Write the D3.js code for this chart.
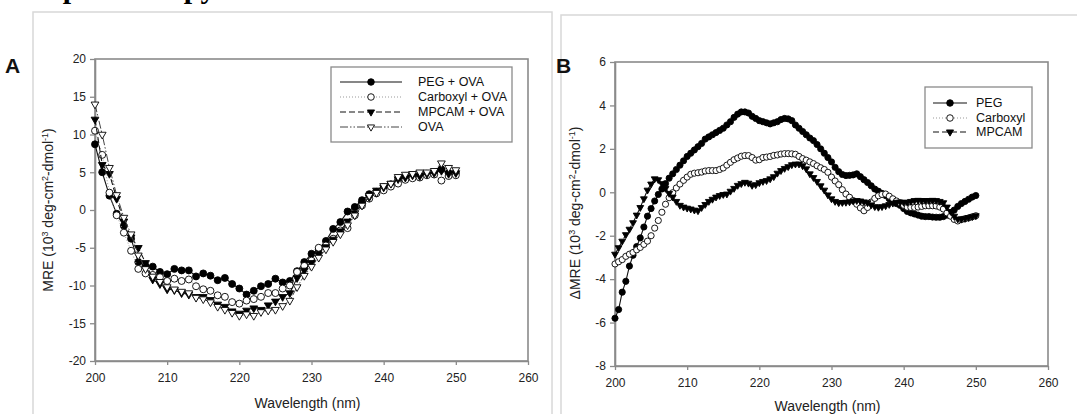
<!DOCTYPE html>
<html>
<head>
<meta charset="utf-8">
<script src="https://cdn.jsdelivr.net/npm/d3@7"></script>
<style>
  html, body { margin: 0; padding: 0; background: #fff; }
  svg { display: block; }
  text { font-family: "Liberation Sans", Arial, sans-serif; }
</style>
</head>
<body>
<svg id="chart" width="1077" height="414"></svg>
<script>
// ---------- DATA ----------
const ticksX = [200, 210, 220, 230, 240, 250, 260];
const ticksYA = [-20, -15, -10, -5, 0, 5, 10, 15, 20];
const ticksYB = [-8, -6, -4, -2, 0, 2, 4, 6];

// Panel A wavelengths (nm)
const wlA = [200,201,202,203,204,205,206,207,208,209,210,211,212,213,214,215,216,217,218,219,220,
  221,222,223,224,225,226,227,228,229,230,231,232,233,234,235,236,237,238,239,240,
  241,242,243,244,245,246,247,248,249,250];

const pegOva = [8.7,5.0,1.9,-0.5,-2.1,-3.8,-6.9,-7.4,-7.5,-8.2,-8.5,-7.8,-8.0,-8.0,-8.8,-8.4,-8.7,-9.3,-9.0,-9.8,
  -10.4,-11.2,-10.7,-10.1,-9.8,-9.1,-9.6,-9.4,-8.1,-6.9,-5.8,-5.2,-4.1,-2.5,-1.6,-0.2,0.4,1.3,2.1,2.4,
  3.0,3.4,4.0,4.4,4.4,4.6,4.8,4.9,5.4,4.9,4.9];
const carbOva = [10.5,7.3,2.3,-0.7,-3.0,-5.4,-7.8,-8.4,-8.6,-8.9,-9.4,-9.1,-9.4,-9.2,-10.1,-10.5,-10.7,-11.3,-11.5,-12.2,
  -12.4,-12.0,-11.8,-11.5,-11.0,-11.0,-10.4,-10.0,-8.2,-7.4,-6.7,-5.0,-4.7,-3.8,-2.7,-2.4,-0.7,0.6,1.5,2.2,
  2.6,3.1,3.5,4.0,4.2,4.3,4.6,4.7,3.9,4.5,4.6];
const mpcamOva = [12.0,6.0,4.8,1.5,-1.5,-3.6,-5.0,-7.0,-9.2,-9.8,-10.5,-10.6,-11.0,-11.2,-11.5,-11.5,-11.9,-12.5,-12.8,-13.4,
  -13.7,-13.3,-13.0,-13.2,-12.6,-12.1,-11.5,-11.0,-9.0,-8.0,-7.0,-5.9,-4.9,-3.9,-2.8,-1.5,-0.4,0.8,1.7,2.6,
  3.0,3.5,4.1,4.3,4.6,4.5,4.8,4.9,5.2,4.8,4.9];
const ova = [14.0,10.0,5.6,2.0,-1.0,-3.2,-6.0,-7.8,-8.8,-9.5,-10.2,-10.5,-10.8,-11.0,-11.6,-11.8,-12.2,-12.8,-13.2,-13.6,
  -14.0,-13.8,-14.0,-13.5,-13.3,-13.2,-12.7,-12.0,-10.2,-8.7,-7.5,-6.3,-5.2,-4.2,-3.2,-2.0,-0.7,0.6,1.9,2.3,
  3.2,3.5,4.4,4.7,4.8,5.0,5.0,5.2,6.2,5.6,5.3];

// Panel B wavelengths (nm)
const wlB = [200,200.5,201,201.5,202,202.5,203,203.5,204,204.5,205,205.5,206,206.5,207,207.5,208,208.5,209,209.5,
  210,210.5,211,211.5,212,212.5,213,213.5,214,214.5,215,215.5,216,216.5,217,217.5,218,218.5,219,219.5,
  220,220.5,221,221.5,222,222.5,223,223.5,224,224.5,225,225.5,226,226.5,227,227.5,228,228.5,229,229.5,
  230,230.5,231,231.5,232,232.5,233,233.5,234,234.5,235,235.5,236,236.5,237,237.5,238,238.5,239,239.5,
  240,240.5,241,241.5,242,242.5,243,243.5,244,244.5,245,245.5,246,246.5,247,247.5,248,248.5,249,249.5,250];

const dPeg = [-5.8,-5.4,-4.6,-4.1,-3.4,-2.9,-2.5,-2.1,-1.6,-1.1,-0.75,-0.4,-0.1,0.15,0.4,0.65,0.85,1.05,1.25,1.45,
  1.65,1.8,1.95,2.1,2.25,2.45,2.55,2.65,2.75,2.85,2.95,3.1,3.25,3.45,3.6,3.7,3.7,3.65,3.5,3.4,
  3.3,3.25,3.2,3.15,3.2,3.25,3.35,3.4,3.38,3.3,3.1,2.95,2.8,2.65,2.5,2.38,2.2,2.0,1.8,1.6,
  1.4,1.15,0.95,0.82,0.77,0.78,0.8,0.85,0.72,0.58,0.45,0.3,0.15,0.05,-0.05,-0.15,-0.3,-0.42,-0.52,-0.6,
  -0.75,-0.88,-0.95,-1.0,-1.05,-1.1,-1.12,-1.12,-1.14,-1.15,-1.15,-1.12,-1.05,-0.95,-0.82,-0.65,-0.52,-0.42,-0.32,-0.22,-0.15];
const dCarb = [-3.3,-3.2,-3.1,-2.95,-2.85,-2.77,-2.65,-2.54,-2.4,-2.25,-2.0,-1.65,-1.3,-0.92,-0.55,-0.25,-0.02,0.2,0.38,0.55,
  0.7,0.83,0.88,0.9,0.93,0.98,1.0,1.0,1.0,1.05,1.12,1.25,1.38,1.5,1.58,1.66,1.69,1.69,1.6,1.48,
  1.5,1.6,1.62,1.65,1.7,1.72,1.76,1.78,1.78,1.77,1.75,1.65,1.55,1.48,1.4,1.32,1.22,1.13,1.05,0.92,
  0.7,0.52,0.35,0.12,-0.08,-0.23,-0.38,-0.55,-0.72,-0.85,-0.7,-0.45,-0.28,-0.16,-0.1,-0.08,-0.18,-0.3,-0.4,-0.48,
  -0.6,-0.69,-0.7,-0.7,-0.68,-0.65,-0.62,-0.62,-0.62,-0.63,-0.68,-0.77,-0.95,-1.1,-1.25,-1.32,-1.26,-1.22,-1.18,-1.13,-1.08];
const dMpcam = [-2.85,-2.55,-2.25,-1.95,-1.7,-1.4,-1.05,-0.7,-0.3,0.1,0.38,0.62,0.58,0.4,0.18,-0.05,-0.22,-0.42,-0.6,-0.68,
  -0.73,-0.77,-0.82,-0.85,-0.7,-0.56,-0.42,-0.32,-0.22,-0.15,-0.1,-0.08,0.05,0.18,0.32,0.4,0.46,0.42,0.32,0.35,
  0.44,0.5,0.54,0.62,0.72,0.88,1.0,1.1,1.18,1.27,1.3,1.3,1.22,1.08,0.85,0.68,0.5,0.3,0.1,-0.12,
  -0.3,-0.42,-0.48,-0.47,-0.46,-0.44,-0.4,-0.38,-0.4,-0.44,-0.48,-0.58,-0.66,-0.69,-0.66,-0.62,-0.56,-0.5,-0.46,-0.45,
  -0.46,-0.46,-0.42,-0.38,-0.37,-0.38,-0.38,-0.38,-0.37,-0.38,-0.42,-0.48,-0.68,-0.88,-1.1,-1.23,-1.23,-1.2,-1.16,-1.12,-1.08];

const legendA = ["PEG + OVA", "Carboxyl + OVA", "MPCAM + OVA", "OVA"];
const legendB = ["PEG", "Carboxyl", "MPCAM"];

// ---------- STYLES ----------
const styles = [
  { marker: "circle", fill: "#000", dash: null, stroke: "#111", width: 1.1 },
  { marker: "circle", fill: "#fff", dash: "1,2", stroke: "#999", width: 1 },
  { marker: "tri", fill: "#000", dash: "6,3", stroke: "#111", width: 1.1 },
  { marker: "tri", fill: "#fff", dash: "8,2,1.5,2,1.5,2", stroke: "#444", width: 1 }
];

const svg = d3.select("#chart");
svg.append("rect").attr("width", 1077).attr("height", 414).attr("fill", "#fff");

// Top title fragment (cut off by the page edge, as in the reference)
svg.append("text").attr("x", 46).attr("y", -2)
  .style("font-family", "'Liberation Serif', 'DejaVu Serif', serif")
  .style("font-weight", "bold").style("font-size", "30px").attr("fill", "#000")
  .text("Spectroscopy");

// outer image frames
svg.append("rect").attr("x", 33).attr("y", 12).attr("width", 519).attr("height", 420)
  .attr("fill", "none").attr("stroke", "#d8d8d8").attr("stroke-width", 1.5);
svg.append("rect").attr("x", 561).attr("y", 15).attr("width", 540).attr("height", 420)
  .attr("fill", "none").attr("stroke", "#d8d8d8").attr("stroke-width", 1.5);

function markerPath(type, size) {
  const sym = type === "circle" ? d3.symbolCircle : d3.symbolTriangle;
  return d3.symbol(sym, size)();
}

const fmt = d => String(d);

function drawPanel(cfg) {
  const { x, y, series, wl, yTicks, label, yLabelPrefix, labelPos, yLabelPos, xLabelY, circSize, triSize } = cfg;
  const g = svg.append("g");
  const [x0, x1] = x.range();
  const [yb, yt] = y.range();
  const axisColor = "#8a8a8a";

  // frame
  g.append("rect").attr("x", x0).attr("y", yt).attr("width", x1 - x0).attr("height", yb - yt)
    .attr("fill", "none").attr("stroke", axisColor).attr("stroke-width", 1.6);

  const xAxis = g.append("g").attr("transform", `translate(0,${yb})`)
    .call(d3.axisBottom(x).tickValues(ticksX).tickFormat(fmt).tickSize(4).tickPadding(8).tickSizeOuter(0));
  const yAxis = g.append("g").attr("transform", `translate(${x0},0)`)
    .call(d3.axisLeft(y).tickValues(yTicks).tickFormat(fmt).tickSize(5).tickPadding(4).tickSizeOuter(0));
  [xAxis, yAxis].forEach(a => {
    a.select(".domain").attr("stroke", axisColor).attr("stroke-width", 1.6);
    a.selectAll(".tick line").attr("stroke", axisColor).attr("stroke-width", 1.3);
    a.selectAll(".tick text").attr("fill", "#222").style("font-size", "12px")
      .style("font-family", "'Liberation Sans', Arial, sans-serif");
  });

  // series
  series.forEach((vals, i) => {
    const st = styles[i];
    const pts = wl.map((w, k) => [w, vals[k]]);
    g.append("path").datum(pts)
      .attr("fill", "none").attr("stroke", st.stroke).attr("stroke-width", st.width)
      .attr("stroke-dasharray", st.dash)
      .attr("d", d3.line().x(d => x(d[0])).y(d => y(d[1])));
    const size = st.marker === "circle" ? circSize : triSize;
    g.append("g").selectAll("path").data(pts).join("path")
      .attr("d", markerPath(st.marker, size))
      .attr("transform", d => `translate(${x(d[0])},${y(d[1])})` + (st.marker === "tri" ? " rotate(180)" : ""))
      .attr("fill", st.fill).attr("stroke", "#000").attr("stroke-width", 0.9);
  });

  // panel label
  svg.append("text").attr("x", labelPos[0]).attr("y", labelPos[1])
    .style("font-size", "21px").style("font-weight", "bold").attr("fill", "#111").text(label);

  // y label
  const yl = svg.append("text")
    .attr("transform", `translate(${yLabelPos[0]},${yLabelPos[1]}) rotate(-90)`)
    .attr("text-anchor", "middle").style("font-size", "14px").attr("fill", "#222");
  yl.append("tspan").text(yLabelPrefix + " (10");
  yl.append("tspan").attr("dy", -5).style("font-size", "9px").text("3");
  yl.append("tspan").attr("dy", 5).text(" deg-cm");
  yl.append("tspan").attr("dy", -5).style("font-size", "9px").text("2");
  yl.append("tspan").attr("dy", 5).text("-dmol");
  yl.append("tspan").attr("dy", -5).style("font-size", "9px").text("-1");
  yl.append("tspan").attr("dy", 5).text(")");

  // x label
  svg.append("text").attr("x", (x0 + x1) / 2 - 4).attr("y", xLabelY)
    .attr("text-anchor", "middle").style("font-size", "14px").attr("fill", "#222")
    .text("Wavelength (nm)");
  return g;
}

function drawLegend(g, names, box, rowYs, lineX, textX) {
  g.append("rect").attr("x", box[0]).attr("y", box[1]).attr("width", box[2]).attr("height", box[3])
    .attr("fill", "#fff").attr("stroke", "#8a8a8a").attr("stroke-width", 1.3);
  names.forEach((n, i) => {
    const st = styles[i];
    const yy = rowYs[i];
    g.append("line").attr("x1", lineX[0]).attr("x2", lineX[1]).attr("y1", yy).attr("y2", yy)
      .attr("stroke", st.stroke).attr("stroke-width", st.width).attr("stroke-dasharray", st.dash);
    const mx = (lineX[0] + lineX[1]) / 2;
    g.append("path").attr("d", markerPath(st.marker, st.marker === "circle" ? 34 : 22))
      .attr("transform", `translate(${mx},${yy})` + (st.marker === "tri" ? " rotate(180)" : ""))
      .attr("fill", st.fill).attr("stroke", "#000").attr("stroke-width", 0.9);
    g.append("text").attr("x", textX).attr("y", yy).attr("dy", "0.35em")
      .style("font-size", "12.5px").attr("fill", "#111").text(n);
  });
}

// Panel A
const xA = d3.scaleLinear().domain([200, 260]).range([95, 528]);
const yA = d3.scaleLinear().domain([-20, 20]).range([361, 59]);
const gA = drawPanel({
  x: xA, y: yA, series: [pegOva, carbOva, mpcamOva, ova], wl: wlA, yTicks: ticksYA,
  label: "A", yLabelPrefix: "MRE", labelPos: [5, 73], yLabelPos: [53, 210], xLabelY: 408,
  circSize: 38, triSize: 26
});
drawLegend(gA, legendA, [331, 67, 181, 75], [82, 97, 112, 127], [340, 402], 418);

// Panel B
const xB = d3.scaleLinear().domain([200, 260]).range([615, 1048]);
const yB = d3.scaleLinear().domain([-8, 6]).range([366, 62]);
const gB = drawPanel({
  x: xB, y: yB, series: [dPeg, dCarb, dMpcam], wl: wlB, yTicks: ticksYB,
  label: "B", yLabelPrefix: "\u0394MRE", labelPos: [556, 73], yLabelPos: [580, 213], xLabelY: 411,
  circSize: 30, triSize: 20
});
drawLegend(gB, legendB, [925, 87, 107, 61], [103, 118, 132], [933, 967], 976);
</script>
</body>
</html>
